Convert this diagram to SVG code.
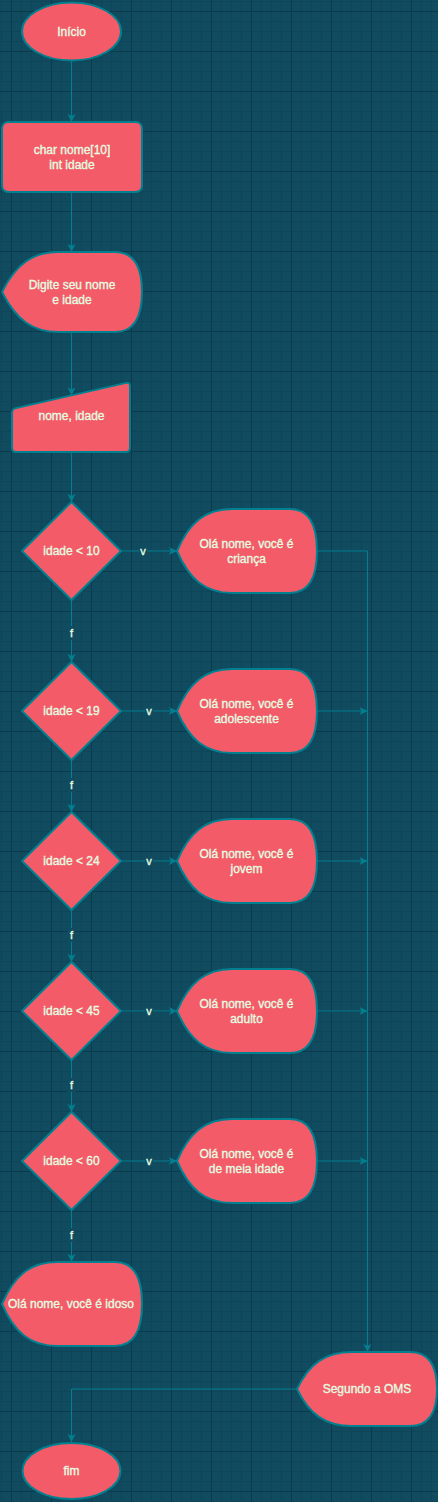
<svg xmlns="http://www.w3.org/2000/svg" width="438" height="1502" viewBox="0 0 438 1502">
<style>
.s{fill:#F45B69;stroke:#028090;stroke-width:2}
.t{font-family:"Liberation Sans",Arial,sans-serif;font-size:12px;fill:#E4FDE1;stroke:#E4FDE1;stroke-width:0.35;text-anchor:middle;dominant-baseline:central}
.e{fill:none;stroke:#028090;stroke-width:1}
.l{font-family:"Liberation Sans",Arial,sans-serif;font-size:11px;fill:#E4FDE1;stroke:#E4FDE1;stroke-width:0.35;text-anchor:middle;dominant-baseline:central}
.lb{fill:#114B5F}
</style>
<defs>
<pattern id="grid" width="40" height="40" patternUnits="userSpaceOnUse" x="11" y="11">
<path d="M10.5,0V40M20.5,0V40M30.5,0V40M0,10.5H40M0,20.5H40M0,30.5H40" stroke="#0f4558" stroke-width="1"/>
<path d="M0.5,0V40M0,0.5H40" stroke="#0c3a4d" stroke-width="1"/>
</pattern>
<marker id="arr" markerUnits="userSpaceOnUse" markerWidth="10" markerHeight="10" refX="8" refY="4" orient="auto">
<path d="M0,0 L8,4 L0,8 L2,4 Z" fill="#028090"/>
</marker>
</defs>
<rect width="438" height="1502" fill="#114B5F"/>
<rect width="438" height="1502" fill="url(#grid)"/>

<g id="connectors">
<path class="e" d="M71.5,61 V122" marker-end="url(#arr)"/>
<path class="e" d="M71.5,192 V252" marker-end="url(#arr)"/>
<path class="e" d="M71.5,332 V395.5" marker-end="url(#arr)"/>
<path class="e" d="M71.5,452 V502" marker-end="url(#arr)"/>
<path class="e" d="M121,551 H177" marker-end="url(#arr)"/>
<path class="e" d="M121,711 H177" marker-end="url(#arr)"/>
<path class="e" d="M121,861 H177" marker-end="url(#arr)"/>
<path class="e" d="M121,1011 H177" marker-end="url(#arr)"/>
<path class="e" d="M121,1161 H177" marker-end="url(#arr)"/>
<path class="e" d="M71.5,600 V662" marker-end="url(#arr)"/>
<path class="e" d="M71.5,760 V812" marker-end="url(#arr)"/>
<path class="e" d="M71.5,910 V962" marker-end="url(#arr)"/>
<path class="e" d="M71.5,1060 V1112" marker-end="url(#arr)"/>
<path class="e" d="M71.5,1210 V1262" marker-end="url(#arr)"/>
<path class="e" d="M317,551 H367.5 V1352" marker-end="url(#arr)"/>
<path class="e" d="M317,711 H367.5" marker-end="url(#arr)"/>
<path class="e" d="M317,861 H367.5" marker-end="url(#arr)"/>
<path class="e" d="M317,1011 H367.5" marker-end="url(#arr)"/>
<path class="e" d="M317,1161 H367.5" marker-end="url(#arr)"/>
<path class="e" d="M297,1389 H71.5 V1442" marker-end="url(#arr)"/>
<rect class="lb" x="139" y="544" width="8" height="13"/><text class="l" x="143" y="551">v</text>
<rect class="lb" x="145" y="704" width="8" height="13"/><text class="l" x="149" y="711">v</text>
<rect class="lb" x="145" y="854" width="8" height="13"/><text class="l" x="149" y="861">v</text>
<rect class="lb" x="145" y="1004" width="8" height="13"/><text class="l" x="149" y="1011">v</text>
<rect class="lb" x="145" y="1154" width="8" height="13"/><text class="l" x="149" y="1161">v</text>
<rect class="lb" x="67.5" y="626" width="8" height="14"/><text class="l" x="71.5" y="633">f</text>
<rect class="lb" x="67.5" y="778" width="8" height="14"/><text class="l" x="71.5" y="785">f</text>
<rect class="lb" x="67.5" y="928" width="8" height="14"/><text class="l" x="71.5" y="935">f</text>
<rect class="lb" x="67.5" y="1078" width="8" height="14"/><text class="l" x="71.5" y="1085">f</text>
<rect class="lb" x="67.5" y="1228" width="8" height="14"/><text class="l" x="71.5" y="1235">f</text>
</g>

<g id="inicio">
<ellipse class="s" cx="71.5" cy="31.5" rx="49.5" ry="29"/>
<text class="t" x="71.5" y="31.5">Início</text>
</g>

<g id="declaracao">
<rect class="s" x="2" y="122" width="140" height="70" rx="6"/>
<text class="t" x="72" y="149.5">char nome[10]</text>
<text class="t" x="72" y="164.5">int idade</text>
</g>

<g id="digite" transform="translate(2,252)">
<path class="s" d="M0,40 C14,12 31,0 56,0 L113,0 Q140,0 140,40 Q140,80 113,80 L56,80 C31,80 14,68 0,40 Z"/>
<text class="t" x="70" y="32.5">Digite seu nome</text>
<text class="t" x="70" y="47.5">e idade</text>
</g>

<g id="entrada">
<path class="s" d="M12,413 Q12,409 15.9,408.1 L126.1,382.9 Q130,382 130,386 L130,448 Q130,452 126,452 L16,452 Q12,452 12,448 Z"/>
<text class="t" x="71.5" y="416">nome, idade</text>
</g>

<g id="dec10">
<path class="s" d="M22,551 L71.5,502 L121,551 L71.5,600 Z"/>
<text class="t" x="71.5" y="551">idade &lt; 10</text>
</g>
<g id="dec19">
<path class="s" d="M22,711 L71.5,662 L121,711 L71.5,760 Z"/>
<text class="t" x="71.5" y="711">idade &lt; 19</text>
</g>
<g id="dec24">
<path class="s" d="M22,861 L71.5,812 L121,861 L71.5,910 Z"/>
<text class="t" x="71.5" y="861">idade &lt; 24</text>
</g>
<g id="dec45">
<path class="s" d="M22,1011 L71.5,962 L121,1011 L71.5,1060 Z"/>
<text class="t" x="71.5" y="1011">idade &lt; 45</text>
</g>
<g id="dec60">
<path class="s" d="M22,1161 L71.5,1112 L121,1161 L71.5,1210 Z"/>
<text class="t" x="71.5" y="1161">idade &lt; 60</text>
</g>

<g id="crianca" transform="translate(177,509)">
<path class="s" d="M0,42 C12,14 28,0 55,0 L113,0 Q140,0 140,42 Q140,84 113,84 L55,84 C28,84 12,70 0,42 Z"/>
<text class="t" x="69.5" y="34.5">Olá nome, você é</text>
<text class="t" x="69.5" y="49.5">criança</text>
</g>
<g id="adolescente" transform="translate(177,669)">
<path class="s" d="M0,42 C12,14 28,0 55,0 L113,0 Q140,0 140,42 Q140,84 113,84 L55,84 C28,84 12,70 0,42 Z"/>
<text class="t" x="69.5" y="34.5">Olá nome, você é</text>
<text class="t" x="69.5" y="49.5">adolescente</text>
</g>
<g id="jovem" transform="translate(177,819)">
<path class="s" d="M0,42 C12,14 28,0 55,0 L113,0 Q140,0 140,42 Q140,84 113,84 L55,84 C28,84 12,70 0,42 Z"/>
<text class="t" x="69.5" y="34.5">Olá nome, você é</text>
<text class="t" x="69.5" y="49.5">jovem</text>
</g>
<g id="adulto" transform="translate(177,969)">
<path class="s" d="M0,42 C12,14 28,0 55,0 L113,0 Q140,0 140,42 Q140,84 113,84 L55,84 C28,84 12,70 0,42 Z"/>
<text class="t" x="69.5" y="34.5">Olá nome, você é</text>
<text class="t" x="69.5" y="49.5">adulto</text>
</g>
<g id="meiaidade" transform="translate(177,1119)">
<path class="s" d="M0,42 C12,14 28,0 55,0 L113,0 Q140,0 140,42 Q140,84 113,84 L55,84 C28,84 12,70 0,42 Z"/>
<text class="t" x="69.5" y="34.5">Olá nome, você é</text>
<text class="t" x="69.5" y="49.5">de meia idade</text>
</g>

<g id="idoso" transform="translate(2,1262)">
<path class="s" d="M0,42 C12,14 28,0 55,0 L113,0 Q140,0 140,42 Q140,84 113,84 L55,84 C28,84 12,70 0,42 Z"/>
<text class="t" x="69" y="42">Olá nome, você é idoso</text>
</g>

<g id="oms" transform="translate(297,1352)">
<path class="s" d="M0,37 C12,12 28,0 55,0 L113,0 Q140,0 140,37 Q140,74 113,74 L55,74 C28,74 12,62 0,37 Z"/>
<text class="t" x="70" y="37">Segundo a OMS</text>
</g>

<g id="fim">
<ellipse class="s" cx="71.5" cy="1471" rx="49" ry="28"/>
<text class="t" x="71.5" y="1471">fim</text>
</g>
</svg>
